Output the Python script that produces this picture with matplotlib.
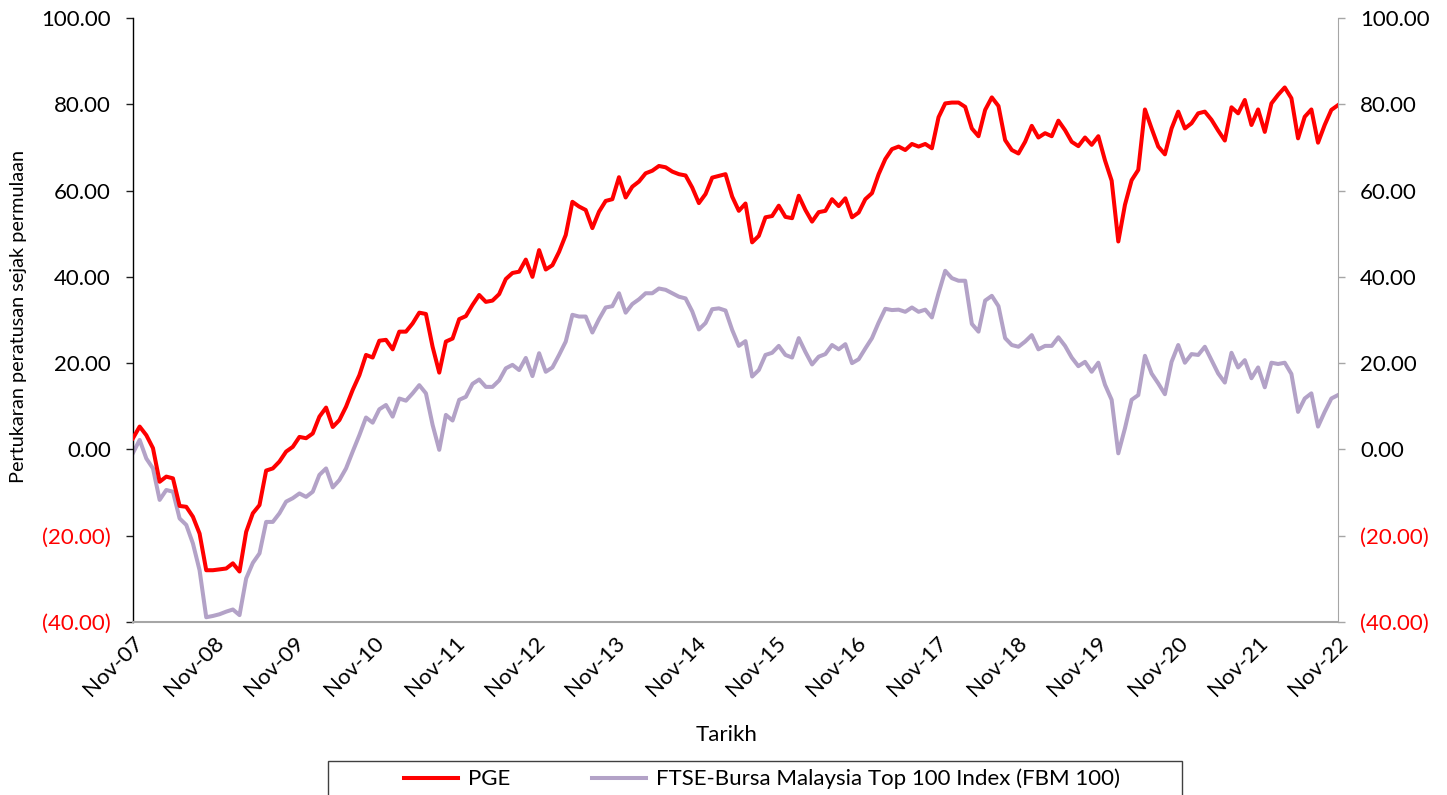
import numpy as np
import matplotlib
matplotlib.use("Agg")
import matplotlib.pyplot as plt
from matplotlib.patches import Rectangle

plt.rcParams['font.family'] = ['Lato', 'DejaVu Sans']

# data: monthly % change since start, Nov-07 .. Nov-22
pge = [2.6, 5.3, 3.3, 0.3, -7.5, -6.3, -6.7, -13.1, -13.3, -15.6,
       -19.5, -28.0, -28.0, -27.8, -27.6, -26.4, -28.3, -19.1, -14.8, -12.9,
       -4.9, -4.4, -2.8, -0.5, 0.6, 2.9, 2.6, 3.7, 7.6, 9.7,
       5.2, 6.8, 9.9, 13.8, 17.2, 21.9, 21.3, 25.2, 25.4, 23.2,
       27.3, 27.3, 29.2, 31.7, 31.4, 23.8, 17.8, 25.0, 25.7, 30.2,
       30.9, 33.5, 35.8, 34.2, 34.5, 36.0, 39.5, 40.9, 41.2, 44.0,
       40.0, 46.2, 41.7, 42.7, 45.8, 49.7, 57.4, 56.3, 55.5, 51.3,
       55.1, 57.6, 58.0, 63.1, 58.4, 60.9, 62.1, 64.0, 64.6, 65.7,
       65.4, 64.4, 63.8, 63.5, 60.7, 57.1, 59.2, 63.0, 63.4, 63.8,
       58.6, 55.3, 57.0, 48.0, 49.5, 53.8, 54.1, 56.5, 53.9, 53.6,
       58.8, 55.5, 52.8, 55.0, 55.3, 58.0, 56.4, 58.2, 53.8, 54.9,
       58.0, 59.4, 63.8, 67.3, 69.6, 70.2, 69.4, 70.8, 70.2, 70.8,
       69.8, 77.0, 80.2, 80.4, 80.4, 79.4, 74.4, 72.6, 78.7, 81.6,
       79.6, 71.7, 69.4, 68.6, 71.3, 75.0, 72.3, 73.3, 72.6, 76.2,
       74.0, 71.3, 70.3, 72.3, 70.6, 72.6, 67.0, 62.3, 48.2, 56.7,
       62.4, 64.8, 78.8, 74.4, 70.2, 68.4, 74.4, 78.3, 74.4, 75.6,
       77.9, 78.3, 76.4, 73.9, 71.6, 79.3, 77.9, 81.0, 75.2, 78.8,
       73.6, 80.2, 82.2, 83.9, 81.4, 72.1, 77.1, 78.8, 71.1, 75.2,
       78.7, 79.8]

fbm = [-0.8, 2.2, -2.1, -4.4, -11.7, -9.4, -9.8, -16.0, -17.5, -21.8,
       -28.0, -38.9, -38.6, -38.2, -37.6, -37.1, -38.4, -29.9, -26.3, -24.1,
       -16.8, -16.8, -14.8, -12.1, -11.3, -10.2, -11.0, -9.8, -5.9, -4.4,
       -8.8, -7.1, -4.4, -0.5, 3.3, 7.4, 6.2, 9.3, 10.3, 7.6,
       11.8, 11.3, 13.0, 14.9, 13.0, 5.7, -0.1, 8.0, 6.7, 11.5,
       12.2, 15.2, 16.2, 14.5, 14.5, 16.0, 18.8, 19.6, 18.4, 21.2,
       17.0, 22.3, 18.0, 19.0, 21.9, 25.0, 31.2, 30.8, 30.8, 27.1,
       30.2, 32.9, 33.2, 36.2, 31.7, 33.7, 34.8, 36.2, 36.2, 37.3,
       37.0, 36.2, 35.4, 35.0, 32.0, 27.8, 29.3, 32.5, 32.7, 32.2,
       27.7, 24.0, 25.1, 16.9, 18.4, 21.9, 22.4, 24.0, 21.9, 21.3,
       25.8, 22.6, 19.7, 21.5, 22.1, 24.2, 23.2, 24.4, 20.0, 20.9,
       23.4, 25.8, 29.4, 32.6, 32.3, 32.4, 31.9, 32.9, 31.9, 32.4,
       30.6, 36.2, 41.4, 39.7, 39.1, 39.1, 29.1, 27.3, 34.5, 35.6,
       33.2, 25.8, 24.2, 23.8, 25.0, 26.5, 23.2, 24.0, 24.0, 26.0,
       24.0, 21.3, 19.3, 20.3, 18.0, 20.1, 15.0, 11.5, -0.9, 4.9,
       11.5, 12.6, 21.7, 17.6, 15.3, 12.8, 20.3, 24.2, 20.1, 22.1,
       21.9, 23.8, 20.7, 17.6, 15.5, 22.4, 19.0, 20.7, 16.5, 19.0,
       14.4, 20.1, 19.8, 20.1, 17.5, 8.7, 11.8, 13.0, 5.3, 8.7,
       11.8, 12.6]

tick_labels = ['Nov-07', 'Nov-08', 'Nov-09', 'Nov-10', 'Nov-11', 'Nov-12',
               'Nov-13', 'Nov-14', 'Nov-15', 'Nov-16', 'Nov-17', 'Nov-18',
               'Nov-19', 'Nov-20', 'Nov-21', 'Nov-22']
y_ticks = [-40, -20, 0, 20, 40, 60, 80, 100]

RED = '#FF0000'
LAV = '#B3A2C7'
GRID = '#A6A6A6'
FS = 16

# positions in years since Nov-07
x = np.linspace(0, len(tick_labels) - 1, len(pge))

fig = plt.figure(figsize=(14.47, 7.95), dpi=100)
ax = fig.add_axes([133 / 1447, 1 - 622 / 795, (1338 - 133) / 1447, (622 - 18) / 795])

ax.plot(x, pge, color=RED, lw=2.9, solid_joinstyle='round', zorder=3)
ax.plot(x, fbm, color=LAV, lw=2.9, solid_joinstyle='round', zorder=2)

ax.set_xlim(0, len(tick_labels) - 1)
ax.set_ylim(-40, 100)


def fmt(v):
    return '(%.2f)' % abs(v) if v < 0 else '%.2f' % v


ax2 = ax.twinx()
ax2.set_ylim(-40, 100)
for a in (ax, ax2):
    a.set_yticks(y_ticks)
    a.set_yticklabels([fmt(v) for v in y_ticks], fontsize=FS)
    for lab, v in zip(a.get_yticklabels(), y_ticks):
        lab.set_color(RED if v < 0 else 'black')
    a.spines['top'].set_visible(False)
    a.tick_params(axis='y', length=5, width=1, pad=11)

ax.tick_params(axis='y', color='#202020')
ax2.tick_params(axis='y', color=GRID)
ax.spines['left'].set_color('black')
ax.spines['right'].set_visible(False)
ax2.spines['left'].set_visible(False)
ax2.spines['right'].set_color(GRID)
ax.spines['bottom'].set_color(GRID)
ax2.spines['bottom'].set_visible(False)
ax.spines['left'].set_linewidth(1)
ax.spines['bottom'].set_linewidth(1.5)

ax.set_xticks(range(len(tick_labels)))
ax.set_xticklabels(tick_labels, rotation=45, ha='right', rotation_mode='anchor',
                   fontsize=FS)
ax.tick_params(axis='x', length=0, pad=8)

ax.set_xlabel('Tarikh', fontsize=FS)
ax.xaxis.set_label_coords((727 - 133) / 1205, -(725 - 622) / 604)
ax.set_ylabel('Pertukaran peratusan sejak permulaan', fontsize=14.3)
ax.yaxis.set_label_coords(-(133 - 18) / 1205, 0.505)
ax.yaxis.label.set_va('center')

# legend frame runs off the bottom of the figure
fig.patches.append(Rectangle((328 / 1447, -0.02), (1182 - 328) / 1447, 0.02 + 34 / 795,
                             transform=fig.transFigure, fill=False,
                             edgecolor='#404040', lw=1))
handles = [plt.Line2D([], [], color=RED, lw=2.9), plt.Line2D([], [], color=LAV, lw=2.9)]
fig.legend(handles, ['PGE', 'FTSE-Bursa Malaysia Top 100 Index (FBM 100)'],
           loc='center left', bbox_to_anchor=(404 / 1447, 1 - 779 / 795), ncol=2,
           frameon=False, fontsize=FS, handlelength=2.43, columnspacing=3.7,
           handletextpad=0.45, borderpad=0, borderaxespad=0)

fig.savefig('out.png', dpi=100)
